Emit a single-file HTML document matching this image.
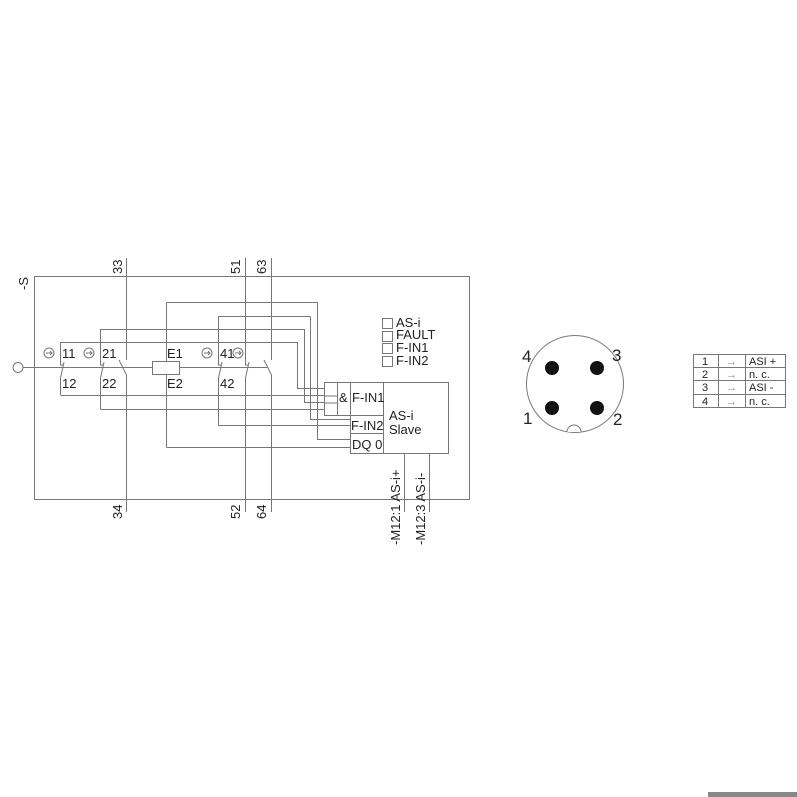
<!DOCTYPE html>
<html><head><style>body{margin:0;background:#fff}svg{display:block}</style></head><body>
<svg width="797" height="797" xmlns="http://www.w3.org/2000/svg" font-family="Liberation Sans, sans-serif">
<g stroke="#777" stroke-width="1" fill="none">
<rect x="34.5" y="276.5" width="435" height="223"/>
<line x1="23" y1="367.5" x2="152" y2="367.5"/>
<line x1="179" y1="367.5" x2="268" y2="367.5"/>
<circle cx="18" cy="367.5" r="5"/>
<rect x="152.5" y="361.5" width="27" height="13" fill="#fff"/>
<polyline points="60.5,342 60.5,365 63,365"/>
<line x1="64" y1="362" x2="60.5" y2="378"/>
<line x1="60.5" y1="378" x2="60.5" y2="395"/>
<line x1="60.5" y1="342.5" x2="297.5" y2="342.5"/>
<line x1="60.5" y1="395.5" x2="324" y2="395.5"/>
<polyline points="100.5,329 100.5,365 103,365"/>
<line x1="104" y1="362" x2="100.5" y2="378"/>
<line x1="100.5" y1="378" x2="100.5" y2="409"/>
<line x1="100.5" y1="329.5" x2="304.5" y2="329.5"/>
<line x1="100.5" y1="409.5" x2="324" y2="409.5"/>
<polyline points="297.5,342 297.5,388.5 324,388.5"/>
<polyline points="304.5,329 304.5,402.5 324,402.5"/>
<line x1="126.5" y1="258" x2="126.5" y2="360"/>
<line x1="119" y1="360" x2="126.5" y2="375"/>
<line x1="126.5" y1="375" x2="126.5" y2="512"/>
<line x1="166.5" y1="302.5" x2="166.5" y2="361"/>
<line x1="166.5" y1="375" x2="166.5" y2="447.5"/>
<line x1="166.5" y1="302.5" x2="317.5" y2="302.5"/>
<polyline points="317.5,302.5 317.5,439.5 350,439.5"/>
<line x1="166.5" y1="447.5" x2="350" y2="447.5"/>
<polyline points="218.5,316 218.5,365 221,365"/>
<line x1="222" y1="362" x2="218.5" y2="378"/>
<line x1="218.5" y1="378" x2="218.5" y2="425.5"/>
<line x1="218.5" y1="316.5" x2="310.5" y2="316.5"/>
<polyline points="310.5,316.5 310.5,419.5 350,419.5"/>
<line x1="218.5" y1="425.5" x2="350" y2="425.5"/>
<polyline points="245.5,258 245.5,365 248,365"/>
<line x1="249" y1="362" x2="245.5" y2="378"/>
<line x1="245.5" y1="378" x2="245.5" y2="512"/>
<line x1="271.5" y1="258" x2="271.5" y2="360"/>
<line x1="264" y1="360" x2="271.5" y2="375"/>
<line x1="271.5" y1="375" x2="271.5" y2="512"/>
<rect x="324.5" y="382.5" width="26" height="33" fill="#fff"/>
<rect x="350.5" y="382.5" width="98" height="71" fill="#fff"/>
<line x1="337.5" y1="382.5" x2="337.5" y2="415.5"/>
<line x1="383.5" y1="382.5" x2="383.5" y2="453.5"/>
<line x1="350.5" y1="415.5" x2="383.5" y2="415.5"/>
<line x1="350.5" y1="433.5" x2="383.5" y2="433.5"/>
<line x1="324.5" y1="396" x2="337.5" y2="396"/>
<line x1="324.5" y1="403" x2="337.5" y2="403"/>
<line x1="404.5" y1="453.5" x2="404.5" y2="512"/>
<line x1="429.5" y1="453.5" x2="429.5" y2="512"/>
<rect x="382.5" y="318.5" width="10" height="10"/>
<rect x="382.5" y="331.5" width="10" height="10"/>
<rect x="382.5" y="343.5" width="10" height="10"/>
<rect x="382.5" y="356.5" width="10" height="10"/>
<g>
<circle cx="49" cy="353" r="5"/><circle cx="89" cy="353" r="5"/><circle cx="207" cy="353" r="5"/><circle cx="238" cy="353" r="5"/>
<path d="M46 353h6M50 351l2 2-2 2M86 353h6M90 351l2 2-2 2M204 353h6M208 351l2 2-2 2M235 353h6M239 351l2 2-2 2"/>
</g>
<circle cx="575" cy="384" r="48.5"/>
<path d="M567 432 a7 7 0 0 1 14 0" fill="#fff"/>
<rect x="693.5" y="354.5" width="92" height="53"/>
<line x1="693.5" y1="367.5" x2="785.5" y2="367.5"/>
<line x1="693.5" y1="380.5" x2="785.5" y2="380.5"/>
<line x1="693.5" y1="394.5" x2="785.5" y2="394.5"/>
<line x1="718.5" y1="354.5" x2="718.5" y2="407.5"/>
<line x1="745.5" y1="354.5" x2="745.5" y2="407.5"/>
</g>
<g fill="#111">
<circle cx="552" cy="368" r="7"/><circle cx="597" cy="368" r="7"/><circle cx="552" cy="408" r="7"/><circle cx="597" cy="408" r="7"/>
</g>
<g fill="#222" font-size="13">
<text x="62" y="358">11</text><text x="102" y="358">21</text><text x="167" y="358">E1</text><text x="220" y="358">41</text>
<text x="62" y="388">12</text><text x="102" y="388">22</text><text x="167" y="388">E2</text><text x="220" y="388">42</text>
<text x="396" y="327">AS-i</text><text x="396" y="339">FAULT</text><text x="396" y="352">F-IN1</text><text x="396" y="365">F-IN2</text>
<text x="339" y="402">&amp;</text><text x="352" y="402">F-IN1</text><text x="351" y="430">F-IN2</text><text x="352" y="449">DQ 0</text>
<text x="389" y="420">AS-i</text><text x="389" y="434">Slave</text>
<g transform="rotate(-90)">
<text x="-290" y="28">-S</text>
<text x="-274" y="122">33</text><text x="-274" y="240">51</text><text x="-274" y="266">63</text>
<text x="-519" y="122">34</text><text x="-519" y="240">52</text><text x="-519" y="266">64</text>
<text x="-545" y="400">-M12:1 AS-i+</text><text x="-545" y="425">-M12:3 AS-i-</text>
</g>
</g>
<g fill="#222" font-size="17">
<text x="522" y="362">4</text><text x="612" y="361">3</text><text x="523" y="424">1</text><text x="613" y="425">2</text>
</g>
<g fill="#222" font-size="11">
<text x="702" y="365">1</text><text x="702" y="378">2</text><text x="702" y="391">3</text><text x="702" y="405">4</text>
<text x="726" y="365" fill="#888">→</text><text x="726" y="378" fill="#888">→</text><text x="726" y="391" fill="#888">→</text><text x="726" y="405" fill="#888">→</text>
<text x="749" y="365">ASI +</text><text x="749" y="378">n. c.</text><text x="749" y="391">ASI -</text><text x="749" y="405">n. c.</text>
</g>
<rect x="708" y="792" width="89" height="5" fill="#888"/>
</svg>
</body></html>
